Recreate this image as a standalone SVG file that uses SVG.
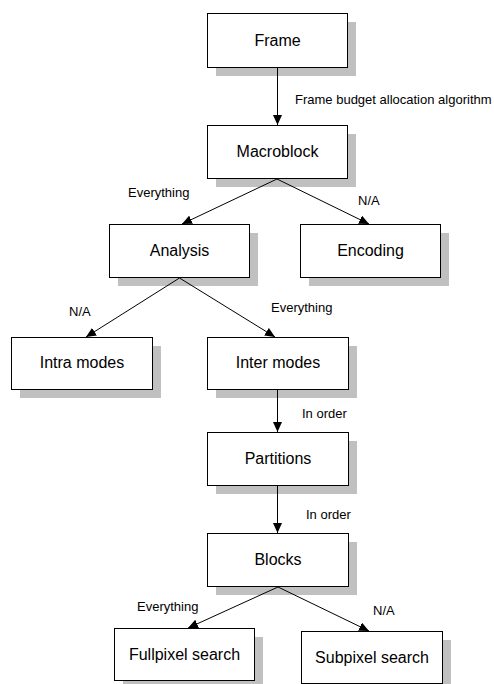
<svg xmlns="http://www.w3.org/2000/svg" width="494" height="684" viewBox="0 0 494 684">
<style>
.box{fill:#fff;stroke:#000;stroke-width:1}
.sh{fill:#c0c0c0;stroke:none}
.nt{font-family:"Liberation Sans",Arial,sans-serif;font-size:16px;text-anchor:middle;fill:#000}
.lb{font-family:"Liberation Sans",Arial,sans-serif;font-size:13px;fill:#000}
.cn{stroke:#000;stroke-width:1;fill:none;marker-end:url(#ah)}
</style>
<defs>
<marker id="ah" markerUnits="userSpaceOnUse" markerWidth="10" markerHeight="9" refX="10" refY="4.5" orient="auto">
<path d="M0,0 L10,4.5 L0,9 z" fill="#000"/>
</marker>
</defs>
<rect width="494" height="684" fill="#fff"/>
<g id="frame"><rect class="sh" x="216" y="22" width="140" height="54"/><rect class="box" x="207.5" y="13.5" width="140" height="54"/><text class="nt" x="277.5" y="46">Frame</text></g>
<g id="macroblock"><rect class="sh" x="216" y="134" width="140" height="53"/><rect class="box" x="207.5" y="125.5" width="140" height="53"/><text class="nt" x="277.5" y="157">Macroblock</text></g>
<g id="analysis"><rect class="sh" x="118" y="233" width="140" height="53"/><rect class="box" x="109.5" y="224.5" width="140" height="53"/><text class="nt" x="179.5" y="256">Analysis</text></g>
<g id="encoding"><rect class="sh" x="309" y="233" width="140" height="53"/><rect class="box" x="300.5" y="224.5" width="140" height="53"/><text class="nt" x="370.5" y="256">Encoding</text></g>
<g id="intra"><rect class="sh" x="20" y="346" width="141" height="52"/><rect class="box" x="11.5" y="337.5" width="141" height="52"/><text class="nt" x="82" y="368">Intra modes</text></g>
<g id="inter"><rect class="sh" x="216" y="346" width="141" height="52"/><rect class="box" x="207.5" y="337.5" width="141" height="52"/><text class="nt" x="278" y="368">Inter modes</text></g>
<g id="partitions"><rect class="sh" x="216" y="441" width="141" height="53"/><rect class="box" x="207.5" y="432.5" width="141" height="53"/><text class="nt" x="278" y="464">Partitions</text></g>
<g id="blocks"><rect class="sh" x="216" y="542" width="141" height="53"/><rect class="box" x="207.5" y="533.5" width="141" height="53"/><text class="nt" x="278" y="565">Blocks</text></g>
<g id="fullpixel"><rect class="sh" x="123" y="637" width="140" height="52"/><rect class="box" x="114.5" y="628.5" width="140" height="52"/><text class="nt" x="184.5" y="660">Fullpixel search</text></g>
<g id="subpixel"><rect class="sh" x="310" y="640" width="141" height="52"/><rect class="box" x="301.5" y="631.5" width="141" height="52"/><text class="nt" x="372" y="663">Subpixel search</text></g>
<g id="connectors">
<line class="cn" x1="277.5" y1="68" x2="277.5" y2="125"/>
<line class="cn" x1="277" y1="179" x2="182" y2="224"/>
<line class="cn" x1="277" y1="179" x2="369" y2="224"/>
<line class="cn" x1="179.5" y1="278" x2="86" y2="337"/>
<line class="cn" x1="179.5" y1="278" x2="275" y2="337"/>
<line class="cn" x1="277.5" y1="390" x2="277.5" y2="432"/>
<line class="cn" x1="277.5" y1="486" x2="277.5" y2="533"/>
<line class="cn" x1="278" y1="587" x2="188" y2="628"/>
<line class="cn" x1="278" y1="587" x2="369" y2="631"/>
<text class="lb" x="295" y="104">Frame budget allocation algorithm</text>
<text class="lb" x="128" y="197">Everything</text>
<text class="lb" x="358" y="205">N/A</text>
<text class="lb" x="69" y="316">N/A</text>
<text class="lb" x="271" y="312">Everything</text>
<text class="lb" x="302" y="418">In order</text>
<text class="lb" x="306" y="519">In order</text>
<text class="lb" x="137" y="611">Everything</text>
<text class="lb" x="373" y="615">N/A</text>
</g>
</svg>
